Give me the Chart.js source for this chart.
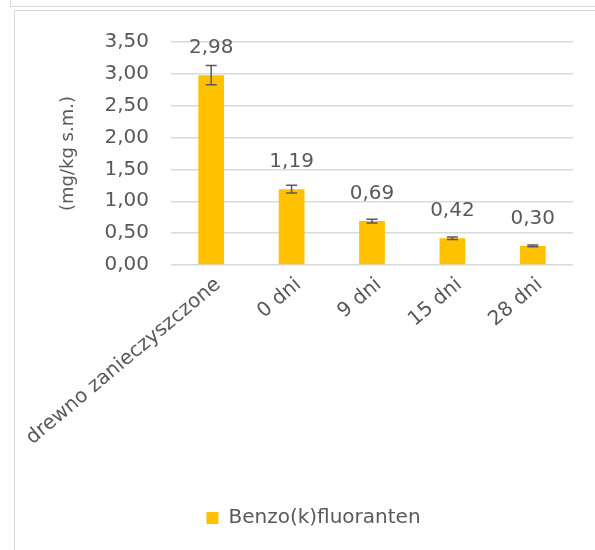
<!DOCTYPE html>
<html>
<head>
<meta charset="utf-8">
<script src="https://cdn.jsdelivr.net/npm/chart.js@4.4.1/dist/chart.umd.min.js"></script>
<style>
  body { margin: 0; background: #fff; width: 595px; height: 550px; overflow: hidden; position: relative; }
  .box-prev { position: absolute; left: 10px; top: -20px; width: 620px; height: 25px; border: 1.5px solid #d9d9d9; }
  .box { position: absolute; left: 14px; top: 10px; width: 620px; height: 600px; border: 1.5px solid #d9d9d9; }
  #wrap { position: absolute; left: 15px; top: 11px; width: 580px; height: 539px; }
</style>
</head>
<body>
<div class="box-prev"></div>
<div class="box"></div>
<div id="wrap"><canvas id="chart1"></canvas></div>
<script>
// chart data
const categories = ['drewno zanieczyszczone', '0 dni', '9 dni', '15 dni', '28 dni'];
const values = [2.98, 1.19, 0.69, 0.42, 0.30];
const errors = [0.15, 0.06, 0.03, 0.02, 0.015];
const yTickLabels = ['0,00', '0,50', '1,00', '1,50', '2,00', '2,50', '3,00', '3,50'];
const seriesName = 'Benzo(k)fluoranten';

const FONT = 'DejaVu Sans';
const TEXT = '#595959';

// error bars drawn over bars
const errorBars = {
  id: 'errorBars',
  afterDatasetsDraw(chart) {
    const ctx = chart.ctx;
    const y = chart.scales.y;
    const meta = chart.getDatasetMeta(0);
    ctx.save();
    ctx.strokeStyle = '#595959';
    ctx.lineWidth = 1.5;
    meta.data.forEach((bar, i) => {
      const top = y.getPixelForValue(values[i] + errors[i]);
      const bot = y.getPixelForValue(values[i] - errors[i]);
      ctx.beginPath();
      ctx.moveTo(bar.x, top); ctx.lineTo(bar.x, bot);
      ctx.moveTo(bar.x - 5.5, top); ctx.lineTo(bar.x + 5.5, top);
      ctx.moveTo(bar.x - 5.5, bot); ctx.lineTo(bar.x + 5.5, bot);
      ctx.stroke();
    });
    ctx.restore();
  }
};

// value labels above bars
const valueLabels = {
  id: 'valueLabels',
  afterDatasetsDraw(chart) {
    const ctx = chart.ctx;
    const meta = chart.getDatasetMeta(0);
    ctx.save();
    ctx.font = '20px "' + FONT + '"';
    ctx.fillStyle = TEXT;
    ctx.textAlign = 'center';
    ctx.textBaseline = 'middle';
    meta.data.forEach((bar, i) => {
      ctx.fillText(values[i].toFixed(2).replace('.', ','), bar.x, bar.y - 27);
    });
    ctx.restore();
  }
};

new Chart(document.getElementById('chart1'), {
  type: 'bar',
  data: {
    labels: categories,
    datasets: [{
      label: seriesName,
      data: values,
      backgroundColor: '#FFC000',
      borderWidth: 0,
      categoryPercentage: 1,
      barPercentage: 0.32
    }]
  },
  options: {
    responsive: true,
    maintainAspectRatio: false,
    animation: false,
    layout: { padding: { top: 31, right: 22, left: 39, bottom: 12 } },
    scales: {
      y: {
        min: 0,
        max: 3.5,
        ticks: {
          stepSize: 0.5,
          padding: 22,
          color: TEXT,
          font: { family: FONT, size: 20 },
          callback: (v, i) => yTickLabels[i]
        },
        grid: { color: '#d9d9d9', lineWidth: 1.5, drawTicks: false },
        border: { display: false },
        title: {
          display: true,
          text: '(mg/kg s.m.)',
          color: TEXT,
          font: { family: FONT, size: 18 }
        },
        afterFit: (s) => { s.width = 117; s.paddingTop = 0; s.paddingBottom = 0; }
      },
      x: {
        ticks: {
          autoSkip: false,
          minRotation: 40,
          maxRotation: 40,
          padding: 8,
          labelOffset: 7,
          color: TEXT,
          font: { family: FONT, size: 20 }
        },
        grid: { display: false, drawTicks: false },
        border: { display: false },
        afterFit: (s) => { s.height = 233; s.paddingLeft = 0; s.paddingRight = 0; }
      }
    },
    plugins: {
      legend: {
        position: 'bottom',
        labels: {
          boxWidth: 12,
          boxHeight: 12,
          color: TEXT,
          font: { family: FONT, size: 20 }
        }
      },
      tooltip: { enabled: false }
    }
  },
  plugins: [errorBars, valueLabels]
});
</script>
</body>
</html>
